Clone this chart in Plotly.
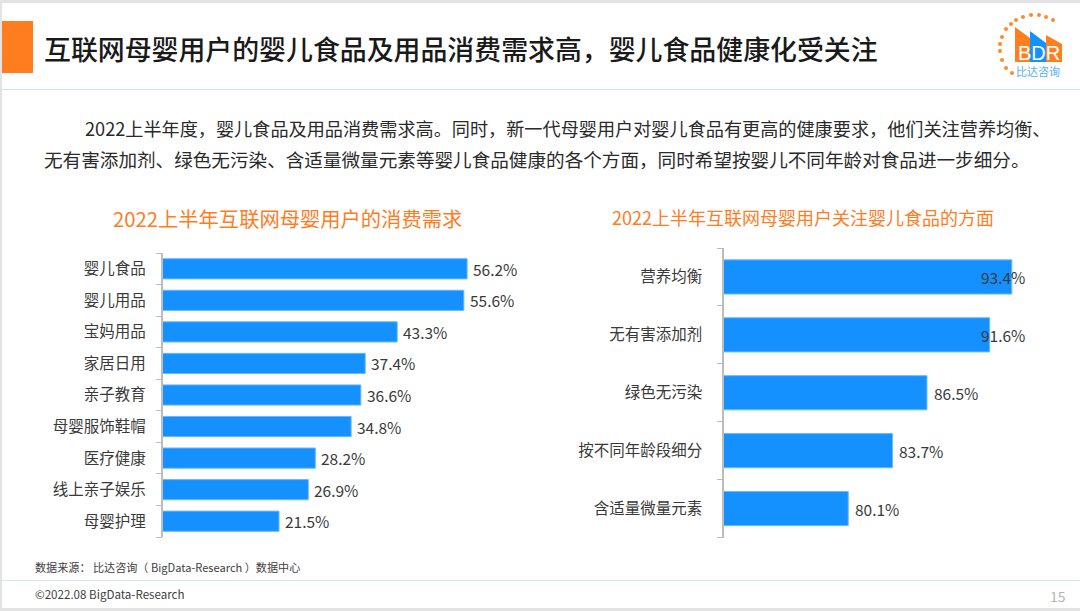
import plotly.graph_objects as go

left_categories = ["婴儿食品", "婴儿用品", "宝妈用品", "家居日用", "亲子教育", "母婴服饰鞋帽", "医疗健康", "线上亲子娱乐", "母婴护理"]
left_values = [56.2, 55.6, 43.3, 37.4, 36.6, 34.8, 28.2, 26.9, 21.5]
right_categories = ["营养均衡", "无有害添加剂", "绿色无污染", "按不同年龄段细分", "含适量微量元素"]
right_values = [93.4, 91.6, 86.5, 83.7, 80.1]

TITLE = "互联网母婴用户的婴儿食品及用品消费需求高，婴儿食品健康化受关注"
PARA1 = "2022上半年度，婴儿食品及用品消费需求高。同时，新一代母婴用户对婴儿食品有更高的健康要求，他们关注营养均衡、"
PARA2 = "无有害添加剂、绿色无污染、含适量微量元素等婴儿食品健康的各个方面，同时希望按婴儿不同年龄对食品进一步细分。"
LEFT_TITLE = "2022上半年互联网母婴用户的消费需求"
RIGHT_TITLE = "2022上半年互联网母婴用户关注婴儿食品的方面"
SOURCE = "数据来源： 比达咨询（ BigData-Research ）数据中心"
COPY = "©2022.08 BigData-Research"

W, H = 1080, 611
FONT = "Noto Sans CJK SC"
BLUE = "#1590FF"
ORANGE = "#FF7C1F"
TXT = "#3a3a3a"
AXIS = "#BDBDBD"
px = lambda x: x / W
py = lambda y: 1 - y / H

fig = go.Figure()
fig.add_bar(x=left_values, y=left_categories, orientation="h", xaxis="x", yaxis="y",
            marker=dict(color=BLUE, line=dict(color="#6BB8FF", width=1)), width=0.64)
fig.add_bar(x=right_values, y=right_categories, orientation="h", xaxis="x2", yaxis="y2",
            marker=dict(color=BLUE, line=dict(color="#6BB8FF", width=1)), width=0.59)
# empty traces that keep the boundary-tick axes alive
fig.add_scatter(x=[None], y=[None], xaxis="x", yaxis="y3", hoverinfo="skip")
fig.add_scatter(x=[None], y=[None], xaxis="x2", yaxis="y4", hoverinfo="skip")

def yax(domain, anchor, standoff):
    return dict(domain=domain, anchor=anchor, autorange=False, type="category", showgrid=False,
                showline=True, linecolor=AXIS, linewidth=1.5, ticks="", ticklabelstandoff=standoff,
                tickfont=dict(size=15.5, color=TXT, family=FONT))

def tickax(domain, anchor, over, n):
    return dict(domain=domain, anchor=anchor, overlaying=over, type="linear", autorange=False,
                range=[n - 0.5, -0.5], tickmode="array", tickvals=[i - 0.5 for i in range(n + 1)],
                showticklabels=False, showgrid=False, zeroline=False, showline=False,
                ticks="outside", ticklen=6, tickwidth=1.2, tickcolor=AXIS)

LD = [py(537), py(253)]
RD = [py(537.5), py(248)]
fig.update_layout(
    width=W, height=H, autosize=False, showlegend=False, paper_bgcolor="white", plot_bgcolor="white",
    margin=dict(l=0, r=0, t=0, b=0), bargap=0.35,
    xaxis=dict(domain=[px(162.5), px(520)], range=[0, (520 - 162.5) / 5.42], visible=False, anchor="y"),
    yaxis=dict(yax(LD, "x", 12), range=[8.5, -0.5]),
    xaxis2=dict(domain=[px(724), px(1033)], range=[70, 70 + 309 / 12.3], visible=False, anchor="y2"),
    yaxis2=dict(yax(RD, "x2", 17), range=[4.5, -0.5]),
    yaxis3=tickax(LD, "x", "y", len(left_categories)),
    yaxis4=tickax(RD, "x2", "y2", len(right_categories)),
)

def text(x, y, s, size, color=TXT, anchor="left", weight="normal", family=FONT):
    fig.add_annotation(xref="paper", yref="paper", x=px(x), y=py(y), text=s, showarrow=False, xanchor=anchor,
                       yanchor="middle", font=dict(size=size, color=color, family=family, weight=weight),
                       borderpad=0, borderwidth=0)

for c, v in zip(left_categories, left_values):
    fig.add_annotation(xref="x", yref="y", x=v, y=c, text=f"{v:.1f}%", showarrow=False, xanchor="left", xshift=4,
                       font=dict(size=15.5, color=TXT, family=FONT))
for c, v in zip(right_categories, right_values):
    fig.add_annotation(xref="x2", yref="y2", x=min(v + 0.4, 90.75), y=c, text=f"{v:.1f}%", showarrow=False,
                       xanchor="left", font=dict(size=15.5, color=TXT, family=FONT))

text(44, 48.5, TITLE, 26.9, "#1a1a1a", weight=500)
text(85, 127.5, PARA1, 18.15, "#2a2a2a")
text(44, 159, PARA2, 18.6, "#2a2a2a")
text(287, 217.5, LEFT_TITLE, 20.3, ORANGE, "center")
text(803, 216.5, RIGHT_TITLE, 18, ORANGE, "center")
text(35, 566.5, SOURCE, 11.1, "#404040")
text(35, 593.5, COPY, 11.6, "#404040")
text(1058, 596, "15", 14, "#B5B5B5", "center")
# logo lettering
text(1039, 53, "BDR", 20, "white", "center", family="Liberation Sans")
text(1038, 71, "比达咨询", 11, "#5AB0F0", "center")

def rect(x0, y0, x1, y1, color):
    fig.add_shape(type="rect", xref="paper", yref="paper", x0=px(x0), x1=px(x1), y0=py(y0), y1=py(y1),
                  fillcolor=color, line_width=0, layer="below")

def poly(points, color):
    path = "M" + "L".join(f"{px(a)},{py(b)}" for a, b in points) + "Z"
    fig.add_shape(type="path", xref="paper", yref="paper", path=path, fillcolor=color, line_width=0, layer="below")

# slide frame
rect(0, 0, 1080, 3, "#E3E3E3")
rect(0, 0, 2, 611, "#E3E3E3")
rect(0, 608, 1080, 611, "#E3E3E3")
rect(2, 21, 33, 73, ORANGE)
rect(2, 89, 1080, 90, "#CFE6F3")
rect(2, 580, 1080, 581, "#CFE6F3")
# logo
poly([(1015, 27), (1030, 38), (1030, 62), (1015, 62)], "#FF7F1E")
poly([(1030, 31), (1046, 43), (1046, 62), (1030, 62)], "#1590FF")
poly([(1046, 35), (1062, 44), (1062, 62), (1046, 62)], "#FF7F1E")
dots = [(1012, 73), (1006, 68), (1002, 60), (1000, 51), (1000, 44), (1002, 37), (1006, 29), (1011, 24),
        (1016, 20), (1023, 17), (1031, 15), (1039, 15), (1046, 17), (1053, 20)]
for a, b in dots:
    fig.add_shape(type="circle", xref="paper", yref="paper", x0=px(a - 2), x1=px(a + 2), y0=py(b + 2), y1=py(b - 2),
                  fillcolor="#FF8A2B", line_width=0, layer="below")

fig.write_html("out.html", config=dict(displayModeBar=False),
               post_script="document.body.style.margin='0';document.documentElement.style.overflow='hidden';")
